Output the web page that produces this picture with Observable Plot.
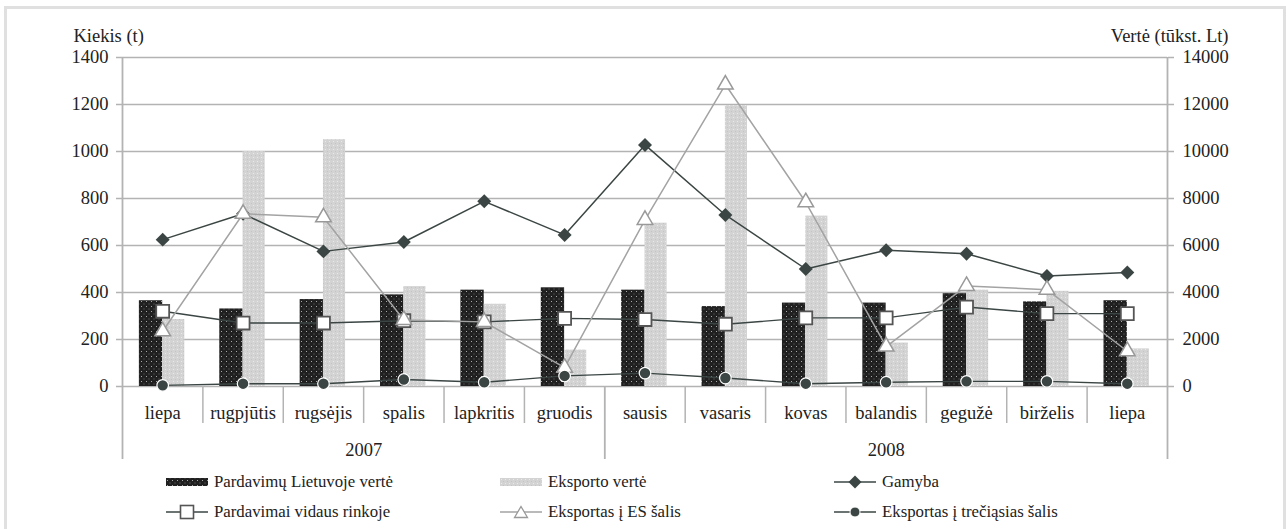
<!DOCTYPE html>
<html><head><meta charset="utf-8">
<script src="https://cdn.jsdelivr.net/npm/d3@7"></script>
<script src="https://cdn.jsdelivr.net/npm/@observablehq/plot@0.6"></script>
<style>
html,body{margin:0;padding:0;background:#fff;}
#page{position:relative;width:1286px;height:529px;overflow:hidden;font-family:"Liberation Serif","Times New Roman","DejaVu Serif",serif;color:#222;}
#chart svg, #chart svg text{font-family:"Liberation Serif","Times New Roman","DejaVu Serif",serif !important;}
#frame{position:absolute;left:4px;top:6px;width:1276px;height:600px;border:3px solid #e0e0e0;border-bottom:none;pointer-events:none;}
#legend{position:relative;height:63px;font-size:16.8px;}
.item{position:absolute;display:flex;align-items:center;height:22px;white-space:nowrap;}
.item svg{margin-right:6px;display:block;}
</style></head>
<body><div id="page"><div id="chart"></div><div id="legend"></div><div id="frame"></div></div>
<script>
// ---- data ----
const months = ["liepa","rugpjūtis","rugsėjis","spalis","lapkritis","gruodis","sausis","vasaris","kovas","balandis","gegužė","birželis","liepa"];
const monthYears = ["2007","2007","2007","2007","2007","2007","2008","2008","2008","2008","2008","2008","2008"];
// tūkst. Lt (right axis)
const domesticValue = [3650, 3300, 3700, 3900, 4100, 4200, 4100, 3400, 3550, 3550, 3950, 3600, 3650];
const exportValue   = [2850, 10000, 10500, 4250, 3500, 1550, 6950, 11950, 7250, 1850, 4100, 4050, 1600];
// t (left axis)
const production    = [625, 735, 575, 615, 788, 645, 1028, 730, 500, 580, 565, 470, 485];
const domesticSales = [320, 270, 270, 280, 275, 290, 285, 265, 292, 292, 338, 310, 310];
const exportEU      = [235, 735, 720, 283, 275, 80, 709, 1285, 784, 170, 428, 412, 150];
const exportThird   = [5, 12, 12, 30, 18, 45, 57, 36, 12, 18, 22, 22, 12];
const leftTicks  = [0, 200, 400, 600, 800, 1000, 1200, 1400];
const rightTicks = [0, 2000, 4000, 6000, 8000, 10000, 12000, 14000];
const leftTitle = "Kiekis (t)";
const rightTitle = "Vertė (tūkst. Lt)";
const seriesNames = ["Pardavimų Lietuvoje vertė","Eksporto vertė","Gamyba","Pardavimai vidaus rinkoje","Eksportas į ES šalis","Eksportas į trečiąsias šalis"];

// ---- derived ----
const ratio = rightTicks[rightTicks.length-1] / leftTicks[leftTicks.length-1];
const rows = months.map((m, i) => ({i, month: m, year: monthYears[i],
  domesticValue: domesticValue[i], exportValue: exportValue[i], production: production[i],
  domesticSales: domesticSales[i], exportEU: exportEU[i], exportThird: exportThird[i]}));
const years = Array.from(d3.group(rows, d => d.year), ([year, g]) => ({year, center: (g[0].i + g[g.length-1].i) / 2}));
const bounds = d3.range(months.length + 1).map(k => ({pos: k - 0.5,
  long: k === 0 || k === months.length || monthYears[k] !== monthYears[k-1]}));

const dark = "#3b4644", grid = "#b3b3b3", euGray = "#a3a3a3";
const serif = '"Liberation Serif", "Times New Roman", "DejaVu Serif", serif';

const chart = Plot.plot({
  width: 1286, height: 466,
  marginLeft: 122, marginRight: 119, marginTop: 57, marginBottom: 80,
  x: {type: "linear", domain: [-0.5, months.length - 0.5], axis: null},
  y: {domain: [0, leftTicks[leftTicks.length-1]], axis: null},
  style: {fontFamily: serif, fontSize: "18.5px", color: "#222", background: "transparent", overflow: "visible"},
  marks: [
    Plot.ruleY(leftTicks, {stroke: grid, strokeWidth: 1.5}),
    Plot.ruleX([bounds[0].pos, bounds[bounds.length-1].pos], {stroke: grid, strokeWidth: 1.8}),
    Plot.ruleX(bounds.filter(d => !d.long), {x: "pos", y1: 0, y2: 0, insetBottom: -37, stroke: grid, strokeWidth: 1.5}),
    Plot.ruleX(bounds.filter(d => d.long), {x: "pos", y1: 0, y2: 0, insetBottom: -73, stroke: grid, strokeWidth: 1.8}),
    Plot.axisY(leftTicks, {anchor: "left", tickSize: 6, tickPadding: 8, stroke: grid, strokeWidth: 1.5, tickFormat: d3.format("d")}),
    Plot.axisY(leftTicks, {anchor: "right", tickSize: 6, tickPadding: 9, stroke: grid, strokeWidth: 1.5, tickFormat: d => String(d * ratio)}),
    Plot.text([leftTitle], {text: d => d, frameAnchor: "top-left", textAnchor: "start", dx: -49, dy: -29}),
    Plot.text([rightTitle], {text: d => d, frameAnchor: "top-right", textAnchor: "end", dx: 61, dy: -29}),
    Plot.text(rows, {x: "i", y: 0, dy: 27, text: "month"}),
    Plot.text(years, {x: "center", y: 0, dy: 64, text: "year"}),
    // bars (value axis, right)
    Plot.rectY(rows, {x1: d => d.i - 0.29, x2: d => d.i, y1: 0, y2: d => d.domesticValue / ratio, fill: "url(#patDark)"}),
    Plot.rectY(rows, {x1: d => d.i, x2: d => d.i + 0.275, y1: 0, y2: d => d.exportValue / ratio, fill: "url(#patLight)"}),
    // lines (quantity axis, left)
    Plot.line(rows, {x: "i", y: "production", stroke: dark, strokeWidth: 1.5}),
    Plot.dot(rows, {x: "i", y: "production", symbol: "diamond2", r: 6.3, fill: dark}),
    Plot.line(rows, {x: "i", y: "domesticSales", stroke: dark, strokeWidth: 1.4}),
    Plot.dot(rows, {x: "i", y: "domesticSales", symbol: "square", r: 7.3, fill: "white", stroke: "#555", strokeWidth: 1.8}),
    Plot.line(rows, {x: "i", y: "exportEU", stroke: euGray, strokeWidth: 1.5}),
    Plot.dot(rows, {x: "i", y: "exportEU", symbol: "triangle", r: 5.8, fill: "white", stroke: "#999", strokeWidth: 1.5}),
    Plot.line(rows, {x: "i", y: "exportThird", stroke: dark, strokeWidth: 1.4}),
    Plot.dot(rows, {x: "i", y: "exportThird", symbol: "circle", r: 5.8, fill: dark, stroke: "white", strokeWidth: 1.2})
  ]
});

d3.select(chart).insert("defs", ":first-child").html(`
  <pattern id="patDark" width="5" height="5" patternUnits="userSpaceOnUse">
    <rect width="5" height="5" fill="#202020"/>
    <rect x="1" y="1" width="1" height="1" fill="#a8a8a8"/>
    <rect x="3.5" y="3.5" width="1" height="1" fill="#6a6a6a"/>
  </pattern>
  <pattern id="patLight" width="4" height="4" patternUnits="userSpaceOnUse">
    <rect width="4" height="4" fill="#d3d3d3"/>
    <rect x="1" y="1" width="1" height="1" fill="#e9e9e9"/>
    <rect x="3" y="3" width="1" height="1" fill="#c4c4c4"/>
  </pattern>`);
document.getElementById("chart").appendChild(chart);

// ---- legend ----
const legendCols = [166, 500, 834];
const legendRows = [16, 46];
const kinds = [
  {kind: "bar", fill: "url(#patDark)"},
  {kind: "bar", fill: "url(#patLight)"},
  {kind: "line", stroke: dark, sym: "diamond"},
  {kind: "line", stroke: dark, sym: "square"},
  {kind: "line", stroke: euGray, sym: "triangle"},
  {kind: "line", stroke: dark, sym: "circle"}
];
const legend = d3.select("#legend");
seriesNames.forEach((name, k) => {
  const col = k % 3, row = Math.floor(k / 3), s = kinds[k];
  const item = legend.append("div").attr("class", "item")
    .style("left", legendCols[col] + "px").style("top", (legendRows[row] - 11) + "px");
  const svg = item.append("svg").attr("width", 42).attr("height", 16);
  if (s.kind === "bar") {
    svg.append("rect").attr("x", 0).attr("y", 4).attr("width", 42).attr("height", 8).attr("fill", s.fill);
  } else {
    svg.append("line").attr("x1", 0).attr("x2", 42).attr("y1", 8).attr("y2", 8).attr("stroke", s.stroke).attr("stroke-width", 1.5);
    if (s.sym === "diamond") svg.append("path").attr("d", "M21,1.5L27.5,8L21,14.5L14.5,8Z").attr("fill", dark);
    if (s.sym === "square") svg.append("rect").attr("x", 14.5).attr("y", 1.5).attr("width", 13).attr("height", 13).attr("fill", "white").attr("stroke", "#555").attr("stroke-width", 1.6);
    if (s.sym === "triangle") svg.append("path").attr("d", "M21,2.5L27.5,13.5L14.5,13.5Z").attr("fill", "white").attr("stroke", "#999").attr("stroke-width", 1.3);
    if (s.sym === "circle") svg.append("circle").attr("cx", 21).attr("cy", 8).attr("r", 5).attr("fill", dark).attr("stroke", "white").attr("stroke-width", 1);
  }
  item.append("span").text(name);
});
</script></body></html>
